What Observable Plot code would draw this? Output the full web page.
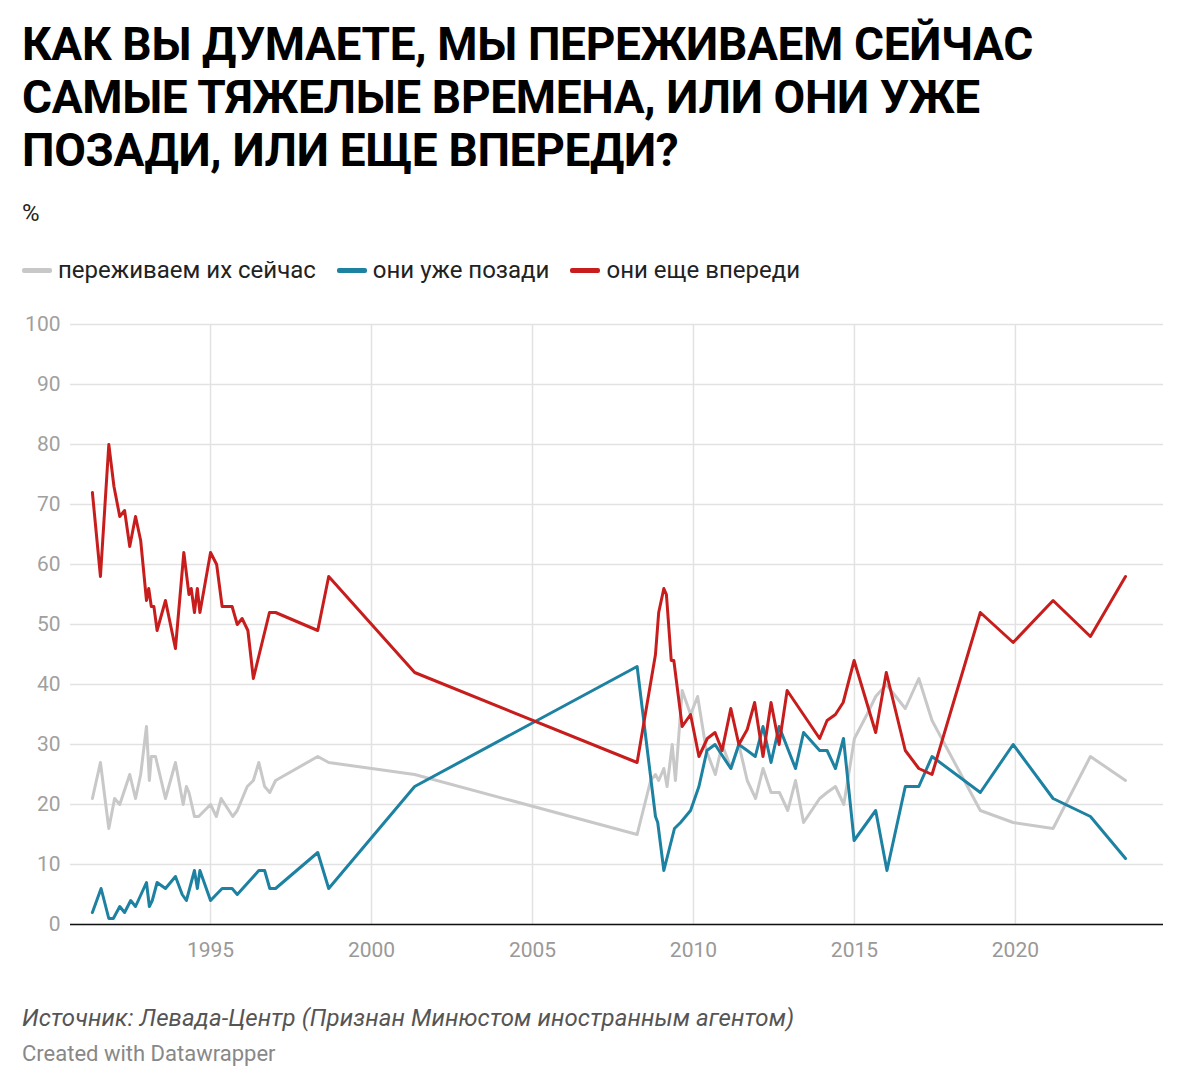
<!DOCTYPE html>
<html>
<head>
<meta charset="utf-8">
<script src="https://cdn.jsdelivr.net/npm/d3@7"></script>
<script src="https://cdn.jsdelivr.net/npm/@observablehq/plot@0.6"></script>
<style>
  html, body { margin: 0; padding: 0; background: #fff; }
  body { width: 1188px; height: 1088px; position: relative; font-family: Roboto, "Noto Sans", sans-serif; color: #000; overflow: hidden; }
  .title { position: absolute; left: 22px; top: 18px; font-size: 46px; line-height: 53px; font-weight: 700; letter-spacing: -0.35px; }
  .unit { position: absolute; left: 22px; top: 200px; font-size: 24px; line-height: 26px; color: #222; }
  .legend { position: absolute; left: 22px; top: 257px; display: flex; align-items: center; font-size: 24px; line-height: 26px; color: #222; }
  .legend .item { display: flex; align-items: center; margin-right: 21px; }
  .legend .sw { width: 30px; height: 5px; border-radius: 2px; margin-right: 6px; }
  #chart { position: absolute; left: 0; top: 300px; }
  .source { position: absolute; left: 22px; top: 1005px; font-size: 24px; line-height: 26px; font-style: italic; color: #555; letter-spacing: 0.1px; }
  .credit { position: absolute; left: 22px; top: 1042px; font-size: 22px; line-height: 24px; color: #888; }
</style>
</head>
<body>
<div class="title">КАК ВЫ ДУМАЕТЕ, МЫ ПЕРЕЖИВАЕМ СЕЙЧАС<br>САМЫЕ ТЯЖЕЛЫЕ ВРЕМЕНА, ИЛИ ОНИ УЖЕ<br>ПОЗАДИ, ИЛИ ЕЩЕ ВПЕРЕДИ?</div>
<div class="unit">%</div>
<div class="legend" id="legend"></div>
<div id="chart"></div>
<div class="source">Источник: Левада-Центр (Признан Минюстом иностранным агентом)</div>
<div class="credit">Created with Datawrapper</div>
<script>
// Series names and colours
const seriesNames = ["переживаем их сейчас", "они уже позади", "они еще впереди"];
const seriesColors = ["#c8c8c8", "#1d81a2", "#c71e1d"];

// [year (decimal), percent]
const nowData = [
  [1991.33,21],[1991.58,27],[1991.84,16],[1992.02,21],[1992.18,20],[1992.49,25],[1992.67,21],[1992.83,25],
  [1993.01,33],[1993.10,24],[1993.16,28],[1993.29,28],[1993.60,21],[1993.91,27],[1994.15,20],[1994.25,23],
  [1994.33,22],[1994.50,18],[1994.63,18],[1995.00,20],[1995.18,18],[1995.33,21],[1995.69,18],[1995.83,19],
  [1996.14,23],[1996.33,24],[1996.50,27],[1996.68,23],[1996.84,22],[1997.02,24],[1998.33,28],[1998.67,27],
  [2001.34,25],[2008.25,15],[2008.67,24],[2008.82,25],[2008.92,24],[2009.08,26],[2009.18,23],[2009.34,30],
  [2009.44,24],[2009.65,39],[2009.91,35],[2010.13,38],[2010.40,29],[2010.68,25],[2010.89,30],[2011.17,26],
  [2011.41,30],[2011.67,24],[2011.93,21],[2012.16,26],[2012.41,22],[2012.67,22],[2012.93,19],[2013.17,24],
  [2013.42,17],[2013.92,21],[2014.15,22],[2014.41,23],[2014.67,20],[2015.00,31],[2015.39,35],[2015.66,38],
  [2015.99,40],[2016.58,36],[2017.00,41],[2017.41,34],[2018.91,19],[2019.93,17],[2021.17,16],[2022.33,28],
  [2023.42,24]
];
const behindData = [
  [1991.33,2],[1991.60,6],[1991.84,1],[1991.98,1],[1992.18,3],[1992.33,2],[1992.52,4],[1992.67,3],
  [1993.01,7],[1993.10,3],[1993.19,4],[1993.34,7],[1993.60,6],[1993.91,8],[1994.12,5],[1994.25,4],
  [1994.50,9],[1994.59,6],[1994.67,9],[1995.00,4],[1995.36,6],[1995.67,6],[1995.83,5],[1996.50,9],
  [1996.68,9],[1996.84,6],[1997.02,6],[1998.33,12],[1998.67,6],[2001.34,23],[2008.25,43],[2008.82,18],
  [2008.89,17],[2009.08,9],[2009.41,16],[2009.60,17],[2009.91,19],[2010.17,23],[2010.42,29],[2010.67,30],
  [2011.16,26],[2011.41,30],[2011.67,29],[2011.92,28],[2012.16,33],[2012.41,27],[2012.66,33],[2013.17,26],
  [2013.42,32],[2013.92,29],[2014.15,29],[2014.41,26],[2014.66,31],[2014.99,14],[2015.66,19],[2016.01,9],
  [2016.58,23],[2017.00,23],[2017.41,28],[2018.91,22],[2019.93,30],[2021.17,21],[2022.33,18],[2023.42,11]
];
const aheadData = [
  [1991.33,72],[1991.58,58],[1991.84,80],[1992.00,73],[1992.18,68],[1992.33,69],[1992.49,63],[1992.67,68],
  [1992.83,64],[1993.01,54],[1993.08,56],[1993.16,53],[1993.24,53],[1993.34,49],[1993.60,54],[1993.91,46],
  [1994.17,62],[1994.33,55],[1994.40,56],[1994.50,52],[1994.59,56],[1994.67,52],[1995.00,62],[1995.19,60],
  [1995.36,53],[1995.67,53],[1995.83,50],[1995.98,51],[1996.16,49],[1996.33,41],[1996.83,52],[1997.02,52],
  [1998.33,49],[1998.67,58],[2001.34,42],[2008.25,27],[2008.82,45],[2008.92,52],[2009.08,56],[2009.16,55],
  [2009.31,44],[2009.39,44],[2009.65,33],[2009.91,35],[2010.17,28],[2010.43,31],[2010.67,32],[2010.89,29],
  [2011.16,36],[2011.41,30],[2011.67,32.5],[2011.90,37],[2012.16,28],[2012.41,37],[2012.66,30],[2012.91,39],
  [2013.92,31],[2014.15,34],[2014.41,35],[2014.65,37],[2014.99,44],[2015.66,32],[2015.99,42],[2016.58,29],
  [2017.00,26],[2017.41,25],[2018.91,52],[2019.93,47],[2021.17,54],[2022.33,48],[2023.42,58]
];

const xTicks = [1995, 2000, 2005, 2010, 2015, 2020];
const yTicks = [0, 10, 20, 30, 40, 50, 60, 70, 80, 90, 100];

const allSeries = [nowData, behindData, aheadData];
const rows = allSeries.flatMap((arr, i) => arr.map(([year, value]) => ({year, value, series: seriesNames[i]})));

// Legend
const legend = document.getElementById("legend");
seriesNames.forEach((name, i) => {
  const item = document.createElement("div");
  item.className = "item";
  item.innerHTML = `<span class="sw" style="background:${seriesColors[i]}"></span><span>${name}</span>`;
  legend.appendChild(item);
});

const chart = Plot.plot({
  width: 1188,
  height: 690,
  marginLeft: 70,
  marginRight: 25,
  marginTop: 24,
  marginBottom: 66,
  style: { fontFamily: "Roboto, sans-serif", fontSize: "21px", color: "#a0a0a0", background: "transparent", overflow: "visible" },
  x: { type: "linear", domain: [1990.65, 2024.6], label: null },
  y: { domain: [0, 100], label: null },
  color: { domain: seriesNames, range: seriesColors },
  marks: [
    Plot.gridY(yTicks, { stroke: "#e2e2e2", strokeOpacity: 1, strokeWidth: 1.5 }),
    Plot.gridX(xTicks, { stroke: "#e2e2e2", strokeOpacity: 1, strokeWidth: 1.5 }),
    Plot.axisY(yTicks, { tickSize: 0, tickPadding: 10, fill: "#a0a0a0" }),
    Plot.axisX(xTicks, { tickSize: 0, tickPadding: 18, tickFormat: d => String(d), fill: "#999" }),
    Plot.ruleY([0], { stroke: "#111", strokeWidth: 1.5 }),
    Plot.line(rows, { x: "year", y: "value", z: "series", stroke: "series", strokeWidth: 3, strokeLinejoin: "round", strokeLinecap: "round" })
  ]
});
document.getElementById("chart").appendChild(chart);
</script>
</body>
</html>
